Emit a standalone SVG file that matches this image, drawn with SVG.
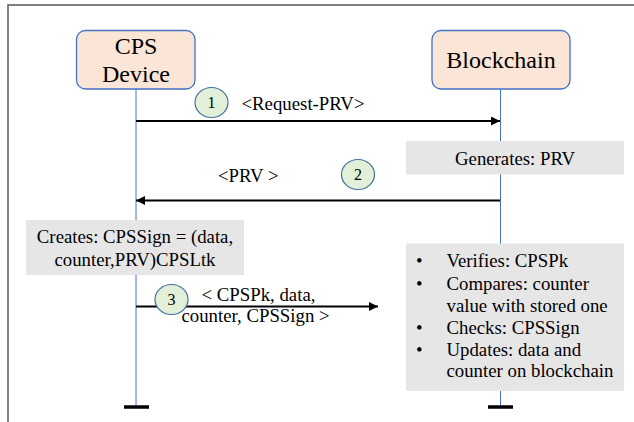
<svg xmlns="http://www.w3.org/2000/svg" width="634" height="422" viewBox="0 0 634 422">
<style>
text{font-family:"Liberation Serif","Times New Roman",serif;fill:#000}
.actor{fill:#FBE5D6;stroke:#4472C4;stroke-width:1.3}
.an{font-size:24px;text-anchor:middle}
.life{stroke:#4472C4;stroke-width:1}
.endbar{stroke:#000;stroke-width:3.5}
.msg{stroke:#000;stroke-width:2;fill:none}
.num{fill:#E2F0D9;stroke:#41719C;stroke-width:1.2}
.nt{font-size:16px;text-anchor:middle}
.lbl{font-size:18.8px}
.note{fill:#E7E6E6}
</style>
<defs>
<marker id="ah" viewBox="0 0 10 10" refX="10" refY="5" markerWidth="4.5" markerHeight="4.5" orient="auto" markerUnits="strokeWidth">
<path d="M0,0 L10,5 L0,10 z" fill="#000"/>
</marker>
</defs>
<path d="M8,422 V5 H634" fill="none" stroke="#595959" stroke-width="1.5"/>
<g id="lifelines">
<line class="life" x1="136" y1="89" x2="136" y2="405"/>
<line class="life" x1="500.5" y1="89" x2="500.5" y2="405"/>
<line class="endbar" x1="124" y1="407" x2="149" y2="407"/>
<line class="endbar" x1="488" y1="407" x2="513" y2="407"/>
</g>
<g id="cps-device">
<rect class="actor" x="76.5" y="30.5" width="118.5" height="58.5" rx="9"/>
<text class="an" x="136" y="53.5">CPS</text>
<text class="an" x="136" y="81.5">Device</text>
</g>
<g id="blockchain">
<rect class="actor" x="432" y="30.5" width="138" height="58.5" rx="9"/>
<text class="an" x="501" y="67.5">Blockchain</text>
</g>
<g id="connectors">
<line class="msg" x1="136" y1="121" x2="500" y2="121" marker-end="url(#ah)"/>
<line class="msg" x1="500" y1="200.5" x2="136" y2="200.5" marker-end="url(#ah)"/>
<line class="msg" x1="136" y1="306.5" x2="378" y2="306.5" marker-end="url(#ah)"/>
</g>
<g id="msg1">
<ellipse class="num" cx="211.5" cy="102.5" rx="16.5" ry="15"/>
<text class="nt" x="211.5" y="108">1</text>
<text class="lbl" x="241.5" y="110">&lt;Request-PRV&gt;</text>
</g>
<g id="generates">
<rect class="note" x="406" y="141" width="218" height="33.5"/>
<text class="lbl" x="515" y="165" text-anchor="middle">Generates: PRV</text>
</g>
<g id="msg2">
<ellipse class="num" cx="358" cy="174.5" rx="16.5" ry="15"/>
<text class="nt" x="358" y="180">2</text>
<text class="lbl" x="218" y="182">&lt;PRV &gt;</text>
</g>
<g id="creates">
<rect class="note" x="26" y="220" width="218" height="55"/>
<text class="lbl" x="135" y="243" text-anchor="middle">Creates: CPSSign = (data,</text>
<text class="lbl" x="135" y="265.5" text-anchor="middle">counter,PRV)CPSLtk</text>
</g>
<g id="msg3">
<ellipse class="num" cx="171.5" cy="299.5" rx="16.5" ry="15"/>
<text class="nt" x="171.5" y="305">3</text>
<text class="lbl" x="201.5" y="301">&lt; CPSPk, data,</text>
<text class="lbl" x="181.5" y="322">counter, CPSSign &gt;</text>
</g>
<g id="verify">
<rect class="note" x="406" y="243.5" width="218" height="147.5"/>
<g class="lbl">
<text x="416" y="266.5">•</text>
<text x="446.5" y="266.5">Verifies:  CPSPk</text>
<text x="416" y="290">•</text>
<text x="446.5" y="290">Compares: counter</text>
<text x="446.5" y="311.5">value  with  stored one</text>
<text x="416" y="334">•</text>
<text x="446.5" y="334">Checks: CPSSign</text>
<text x="416" y="356">•</text>
<text x="446.5" y="356">Updates: data and</text>
<text x="446.5" y="377">counter on blockchain</text>
</g>
</g>
</svg>
